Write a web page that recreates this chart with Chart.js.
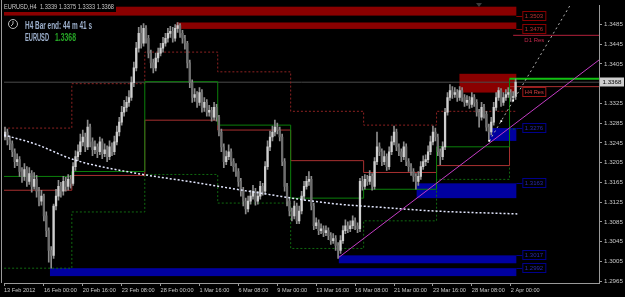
<!DOCTYPE html>
<html>
<head>
<meta charset="utf-8">
<script src="https://cdn.jsdelivr.net/npm/chart.js@4.4.1/dist/chart.umd.min.js"></script>
<style>
html, body { margin: 0; padding: 0; background: #000; }
</style>
</head>
<body>
<canvas id="myChart" width="625" height="297"></canvas>
<script>
// EURUSD H4 candles, bar 0 = 13 Feb 2012 00:00
var opens = [1.3255,1.3263,1.3257,1.3267,1.3251,1.3243,1.3227,1.3207,1.3211,1.3187,
  1.3177,1.3191,1.3167,1.3183,1.3157,1.3171,1.3147,1.3127,1.3137,1.3097,
  1.3067,1.3027,1.3017,1.3117,1.3137,1.3157,1.3147,1.3167,1.3157,1.3171,
  1.3163,1.3197,1.3217,1.3227,1.3247,1.3257,1.3237,1.3277,1.3247,1.3231,
  1.3237,1.3227,1.3247,1.3223,1.3231,1.3217,1.3237,1.3227,1.3247,1.3267,
  1.3287,1.3307,1.3317,1.3327,1.3337,1.3367,1.3397,1.3437,1.3467,1.3447,
  1.3477,1.3457,1.3427,1.3407,1.3397,1.3417,1.3427,1.3437,1.3447,1.3457,
  1.3467,1.3471,1.3457,1.3477,1.3483,1.3467,1.3457,1.3447,1.3407,1.3367,
  1.3337,1.3343,1.3327,1.3347,1.3317,1.3327,1.3307,1.3311,1.3297,1.3317,
  1.3297,1.3267,1.3237,1.3207,1.3217,1.3227,1.3207,1.3197,1.3187,1.3167,
  1.3147,1.3127,1.3111,1.3127,1.3137,1.3147,1.3127,1.3137,1.3157,1.3147,
  1.3197,1.3237,1.3257,1.3267,1.3277,1.3271,1.3257,1.3207,1.3157,1.3127,
  1.3107,1.3097,1.3117,1.3087,1.3107,1.3137,1.3157,1.3167,1.3171,1.3117,
  1.3077,1.3083,1.3067,1.3071,1.3063,1.3067,1.3057,1.3047,1.3051,1.3037,
  1.3027,1.3047,1.3067,1.3077,1.3071,1.3077,1.3087,1.3077,1.3071,1.3167,
  1.3157,1.3171,1.3167,1.3177,1.3157,1.3207,1.3237,1.3227,1.3207,1.3217,
  1.3197,1.3227,1.3247,1.3267,1.3237,1.3227,1.3217,1.3237,1.3207,1.3197,
  1.3187,1.3177,1.3167,1.3177,1.3197,1.3207,1.3211,1.3227,1.3247,1.3267,
  1.3257,1.3227,1.3217,1.3237,1.3307,1.3337,1.3351,1.3343,1.3347,1.3337,
  1.3351,1.3337,1.3327,1.3331,1.3323,1.3337,1.3327,1.3307,1.3297,1.3317,
  1.3303,1.3277,1.3267,1.3287,1.3317,1.3337,1.3351,1.3327,1.3337,1.3343,
  1.3347,1.3337,1.3339];
var highs = [1.3275,1.3271,1.3277,1.3273,1.3259,1.3249,1.3233,1.3223,1.3217,1.3195,
  1.3203,1.3197,1.3195,1.3189,1.3185,1.3179,1.3155,1.3149,1.3141,1.3105,
  1.3073,1.3035,1.3121,1.3151,1.3169,1.3165,1.3177,1.3175,1.3181,1.3179,
  1.3205,1.3229,1.3241,1.3263,1.3271,1.3265,1.3291,1.3283,1.3255,1.3249,
  1.3243,1.3257,1.3253,1.3243,1.3239,1.3249,1.3245,1.3259,1.3279,1.3297,
  1.3319,1.3331,1.3339,1.3351,1.3379,1.3409,1.3449,1.3479,1.3483,1.3487,
  1.3483,1.3463,1.3433,1.3415,1.3427,1.3437,1.3447,1.3459,1.3467,1.3477,
  1.3481,1.3479,1.3485,1.3489,1.3487,1.3473,1.3463,1.3451,1.3413,1.3373,
  1.3355,1.3349,1.3357,1.3353,1.3337,1.3333,1.3321,1.3317,1.3327,1.3323,
  1.3301,1.3273,1.3243,1.3229,1.3241,1.3233,1.3213,1.3203,1.3193,1.3173,
  1.3155,1.3133,1.3137,1.3149,1.3159,1.3153,1.3147,1.3167,1.3163,1.3207,
  1.3249,1.3269,1.3279,1.3291,1.3285,1.3277,1.3263,1.3213,1.3163,1.3133,
  1.3113,1.3127,1.3123,1.3117,1.3147,1.3167,1.3177,1.3187,1.3177,1.3123,
  1.3093,1.3089,1.3081,1.3077,1.3077,1.3073,1.3063,1.3061,1.3057,1.3043,
  1.3057,1.3077,1.3089,1.3085,1.3087,1.3097,1.3093,1.3083,1.3173,1.3177,
  1.3181,1.3179,1.3189,1.3183,1.3215,1.3267,1.3245,1.3233,1.3229,1.3223,
  1.3237,1.3259,1.3279,1.3273,1.3243,1.3233,1.3247,1.3243,1.3213,1.3203,
  1.3193,1.3183,1.3187,1.3207,1.3219,1.3221,1.3239,1.3259,1.3279,1.3275,
  1.3263,1.3233,1.3247,1.3315,1.3347,1.3363,1.3359,1.3357,1.3353,1.3359,
  1.3357,1.3343,1.3341,1.3339,1.3347,1.3343,1.3333,1.3313,1.3327,1.3323,
  1.3309,1.3283,1.3297,1.3327,1.3347,1.3357,1.3355,1.3347,1.3353,1.3357,
  1.3353,1.3349,1.3375];
var lows = [1.3245,1.3249,1.3251,1.3241,1.3231,1.3217,1.3195,1.3199,1.3177,1.3165,
  1.3169,1.3157,1.3161,1.3145,1.3151,1.3135,1.3117,1.3119,1.3087,1.3055,
  1.3003,1.2991,1.3011,1.3109,1.3129,1.3135,1.3139,1.3147,1.3149,1.3153,
  1.3159,1.3189,1.3209,1.3221,1.3239,1.3227,1.3231,1.3237,1.3219,1.3223,
  1.3215,1.3221,1.3213,1.3217,1.3207,1.3211,1.3219,1.3221,1.3241,1.3259,
  1.3281,1.3299,1.3309,1.3319,1.3331,1.3359,1.3391,1.3429,1.3437,1.3441,
  1.3447,1.3417,1.3397,1.3387,1.3391,1.3409,1.3421,1.3429,1.3441,1.3449,
  1.3459,1.3449,1.3451,1.3469,1.3459,1.3447,1.3435,1.3397,1.3357,1.3327,
  1.3329,1.3317,1.3321,1.3307,1.3309,1.3299,1.3299,1.3289,1.3291,1.3289,
  1.3259,1.3227,1.3195,1.3201,1.3211,1.3199,1.3187,1.3177,1.3157,1.3137,
  1.3117,1.3101,1.3105,1.3121,1.3131,1.3119,1.3121,1.3131,1.3139,1.3141,
  1.3191,1.3229,1.3249,1.3259,1.3263,1.3249,1.3199,1.3147,1.3117,1.3097,
  1.3087,1.3091,1.3081,1.3081,1.3101,1.3129,1.3151,1.3159,1.3109,1.3069,
  1.3071,1.3059,1.3061,1.3055,1.3057,1.3049,1.3039,1.3041,1.3027,1.3011,
  1.3021,1.3041,1.3061,1.3063,1.3065,1.3071,1.3069,1.3063,1.3065,1.3149,
  1.3151,1.3159,1.3161,1.3149,1.3151,1.3201,1.3219,1.3199,1.3201,1.3189,
  1.3191,1.3221,1.3241,1.3229,1.3219,1.3207,1.3211,1.3199,1.3187,1.3179,
  1.3167,1.3151,1.3159,1.3171,1.3191,1.3199,1.3205,1.3221,1.3241,1.3249,
  1.3219,1.3201,1.3211,1.3231,1.3301,1.3331,1.3335,1.3337,1.3329,1.3331,
  1.3329,1.3319,1.3321,1.3315,1.3317,1.3319,1.3299,1.3277,1.3291,1.3295,
  1.3269,1.3249,1.3261,1.3281,1.3311,1.3331,1.3319,1.3321,1.3331,1.3337,
  1.3329,1.3329,1.3333];
var closes = [1.3263,1.3257,1.3267,1.3251,1.3243,1.3227,1.3207,1.3211,1.3187,1.3177,
  1.3191,1.3167,1.3183,1.3157,1.3171,1.3147,1.3127,1.3137,1.3097,1.3067,
  1.3027,1.3017,1.3117,1.3137,1.3157,1.3147,1.3167,1.3157,1.3171,1.3163,
  1.3197,1.3217,1.3227,1.3247,1.3257,1.3237,1.3277,1.3247,1.3231,1.3237,
  1.3227,1.3247,1.3223,1.3231,1.3217,1.3237,1.3227,1.3247,1.3267,1.3287,
  1.3307,1.3317,1.3327,1.3337,1.3367,1.3397,1.3437,1.3467,1.3447,1.3477,
  1.3457,1.3427,1.3407,1.3397,1.3417,1.3427,1.3437,1.3447,1.3457,1.3467,
  1.3471,1.3457,1.3477,1.3483,1.3467,1.3457,1.3447,1.3407,1.3367,1.3337,
  1.3343,1.3327,1.3347,1.3317,1.3327,1.3307,1.3311,1.3297,1.3317,1.3297,
  1.3267,1.3237,1.3207,1.3217,1.3227,1.3207,1.3197,1.3187,1.3167,1.3147,
  1.3127,1.3111,1.3127,1.3137,1.3147,1.3127,1.3137,1.3157,1.3147,1.3197,
  1.3237,1.3257,1.3267,1.3277,1.3271,1.3257,1.3207,1.3157,1.3127,1.3107,
  1.3097,1.3117,1.3087,1.3107,1.3137,1.3157,1.3167,1.3171,1.3117,1.3077,
  1.3083,1.3067,1.3071,1.3063,1.3067,1.3057,1.3047,1.3051,1.3037,1.3027,
  1.3047,1.3067,1.3077,1.3071,1.3077,1.3087,1.3077,1.3071,1.3167,1.3157,
  1.3171,1.3167,1.3177,1.3157,1.3207,1.3237,1.3227,1.3207,1.3217,1.3197,
  1.3227,1.3247,1.3267,1.3237,1.3227,1.3217,1.3237,1.3207,1.3197,1.3187,
  1.3177,1.3167,1.3177,1.3197,1.3207,1.3211,1.3227,1.3247,1.3267,1.3257,
  1.3227,1.3217,1.3237,1.3307,1.3337,1.3351,1.3343,1.3347,1.3337,1.3351,
  1.3337,1.3327,1.3331,1.3323,1.3337,1.3327,1.3307,1.3297,1.3317,1.3303,
  1.3277,1.3267,1.3287,1.3317,1.3337,1.3351,1.3327,1.3337,1.3343,1.3347,
  1.3337,1.3339,1.3368];

// time axis: one label every 16 bars
var timeTickBars = [1.6, 18, 34, 50, 66, 82, 98, 114, 130, 146, 162, 178, 194, 210];
var timeTickLabels = ['13 Feb 2012', '16 Feb 00:00', '20 Feb 16:00', '23 Feb 08:00', '28 Feb 00:00',
  '1 Mar 16:00', '6 Mar 08:00', '9 Mar 00:00', '13 Mar 16:00', '16 Mar 08:00',
  '21 Mar 00:00', '23 Mar 16:00', '28 Mar 08:00', '2 Apr 00:00'];
var priceTicks = [1.2965, 1.3005, 1.3045, 1.3085, 1.3125, 1.3165, 1.3205, 1.3245,
  1.3285, 1.3325, 1.3365, 1.3405, 1.3445, 1.3485];

// weekly levels (week starts in bars)
var weekStarts = [0, 29.5, 59.5, 89.5, 119.5, 149.5, 179.5, 209.5];
var weekHighDotted = [1.3275, 1.3365, 1.3429, 1.3389, 1.3309, 1.3281, 1.3309, 1.3309];
var weekLowDotted = [1.2991, 1.3105, 1.3181, 1.3123, 1.3031, 1.3087, 1.3171, 1.3273];
var weekHighSolid = [1.3177, 1.3187, 1.3369, 1.3281, 1.3133, 1.3151, 1.3237, 1.3375];
var weekLowSolid = [1.3149, 1.3179, 1.3291, 1.3271, 1.3209, 1.3185, 1.3199, 1.3359];

// slow moving average (read at a few bars)
var maBars = [1.6, 14.3, 30.3, 54.1, 79.9, 107.3, 134.8, 160.6, 178.2, 212.7];
var maValues = [1.3261, 1.3243, 1.3211, 1.3185, 1.3165, 1.3143, 1.3123, 1.3113, 1.3107, 1.3101];

// drawn objects
var trendBars = [139.3, 246.3];
var trendValues = [1.3013, 1.3413];
var channelBars = [201.2, 236];
var channelValues = [1.3249, 1.3537];
var markerBars = [201.2, 206.1, 211.0];
var markerValues = [1.3249, 1.3289, 1.3331];
var d1ResBars = [211, 246.3];
var d1Res = 1.3463;
var bidPrice = 1.3368;

// supply / demand zones
var zoneStart = [1.6, 72.5, 188.9, 201.2, 171.3, 139.3, 20.5];
var zoneEnd = 212.3;
var zoneTop = [1.3521, 1.3489, 1.3385, 1.3275, 1.3163, 1.3017, 1.2991];
var zoneBottom = [1.3503, 1.3476, 1.3347, 1.3249, 1.3133, 1.3001, 1.2975];
var zoneKind = ['sup', 'sup', 'sup', 'dem', 'dem', 'dem', 'dem'];
var zoneLabels = ['1.3503', '1.3476', '', '1.3276', '1.3163', '1.3017', '1.2992'];

var FONT = '"Liberation Sans", Arial, sans-serif';
var AXIS = '#9a9a9a';

function pts(xs, ys) {
    return xs.map(function (x, k) { return {x: x, y: ys[k]}; });
}
function weekly(values, endBar) {
    var p = pts(weekStarts, values);
    p.push({x: endBar, y: values[values.length - 1]});
    return p;
}
var wickData = closes.map(function (c, i) { return {x: i, y: [lows[i], highs[i]]}; });
var bodyData = closes.map(function (c, i) { return {x: i, y: [opens[i], closes[i]]}; });

// zones behind, labels and text on top
const overlay = {
    id: 'overlay',
    beforeDatasetsDraw: function (chart) {
        var ctx = chart.ctx, a = chart.chartArea, x = chart.scales.x, y = chart.scales.y;
        ctx.save();
        ctx.beginPath();
        ctx.rect(a.left, a.top, a.right - a.left, a.bottom - a.top);
        ctx.clip();
        zoneStart.forEach(function (s, k) {
            var x0 = Math.max(x.getPixelForValue(s), a.left);
            var x1 = x.getPixelForValue(zoneEnd);
            var y0 = y.getPixelForValue(zoneTop[k]);
            var y1 = y.getPixelForValue(zoneBottom[k]);
            ctx.fillStyle = zoneKind[k] === 'sup' ? '#8a0000' : '#0000a0';
            ctx.fillRect(x0, y0, x1 - x0, y1 - y0);
        });
        ctx.restore();
    },
    afterDatasetsDraw: function (chart) {
        var ctx = chart.ctx, x = chart.scales.x, y = chart.scales.y;
        var xe = x.getPixelForValue(zoneEnd);
        ctx.save();
        ctx.font = '6px ' + FONT;
        ctx.textBaseline = 'middle';
        zoneLabels.forEach(function (t, k) {
            if (!t) return;
            var sup = zoneKind[k] === 'sup';
            var ly = Math.round(y.getPixelForValue(sup ? zoneBottom[k] : zoneTop[k]));
            ctx.strokeStyle = sup ? '#8a0000' : '#00008c';
            ctx.lineWidth = 1;
            ctx.beginPath();
            ctx.moveTo(xe, ly + 0.5);
            ctx.lineTo(xe + 6, ly + 0.5);
            ctx.stroke();
            ctx.strokeRect(xe + 6.5, ly - 4.5, 23, 9);
            ctx.fillStyle = sup ? '#b83030' : '#2a2ab0';
            ctx.fillText(t, xe + 8.5, ly + 0.5, 19);
        });
        // H4 Res label under its line
        var hy = Math.round(y.getPixelForValue(weekLowSolid[7]));
        ctx.strokeStyle = '#a01818';
        ctx.strokeRect(xe + 6.5, hy + 0.5, 23, 9);
        ctx.fillStyle = '#d04040';
        ctx.fillText('H4 Res', xe + 8.5, hy + 5, 19);
        // D1 Res text
        var dy = y.getPixelForValue(d1Res);
        ctx.fillStyle = '#c0284a';
        ctx.fillText('D1 Res', xe + 8, dy + 5, 21);
        ctx.restore();
    },
    afterDraw: function (chart) {
        var ctx = chart.ctx, a = chart.chartArea, y = chart.scales.y;
        ctx.save();
        // left border
        ctx.strokeStyle = AXIS;
        ctx.beginPath();
        ctx.moveTo(1.5, 0);
        ctx.lineTo(1.5, a.bottom);
        ctx.stroke();
        // header box
        ctx.fillStyle = '#000';
        ctx.fillRect(2, 2, 114, 10);
        ctx.fillStyle = '#c8c8c8';
        ctx.font = '6.5px ' + FONT;
        ctx.textBaseline = 'middle';
        var last = closes.length - 1;
        ctx.fillText('EURUSD,H4  ' + opens[last].toFixed(4) + ' ' + highs[last].toFixed(4) + ' ' +
            lows[last].toFixed(4) + ' ' + closes[last].toFixed(4), 4, 7.5, 110);
        // clock icon
        ctx.strokeStyle = '#b8b8b8';
        ctx.lineWidth = 1;
        ctx.beginPath();
        ctx.arc(13, 24, 4.5, 0, Math.PI * 2);
        ctx.moveTo(13, 24); ctx.lineTo(13, 21);
        ctx.moveTo(13, 24); ctx.lineTo(11, 26);
        ctx.stroke();
        ctx.font = 'bold 10px ' + FONT;
        ctx.fillStyle = '#9db0cc';
        ctx.fillText('H4 Bar end: 44 m 41 s', 25, 26, 67);
        ctx.fillText('EURUSD', 25, 38.5, 24);
        ctx.fillStyle = '#26a626';
        ctx.fillText(closes[last].toFixed(4), 55, 38.5, 21);
        // shift marker
        ctx.fillStyle = '#3a3a3a';
        ctx.beginPath();
        ctx.moveTo(476, 3); ctx.lineTo(482, 3); ctx.lineTo(479, 7);
        ctx.fill();
        // current price tag on the axis
        var py = Math.round(y.getPixelForValue(bidPrice));
        ctx.fillStyle = '#cfcfcf';
        ctx.fillRect(a.right + 1, py - 4.5, 24, 9);
        ctx.fillStyle = '#000';
        ctx.font = '6.2px ' + FONT;
        ctx.fillText(bidPrice.toFixed(4), a.right + 3.5, py, 20);
        ctx.restore();
    }
};

const data = {
    datasets: [
        {   // small swing markers
            type: 'line', data: pts(markerBars, markerValues), showLine: false,
            pointStyle: 'rect', pointRadius: 1.3, pointBackgroundColor: '#ffffff', pointBorderWidth: 0
        },
        {   // rising trend line
            type: 'line', data: pts(trendBars, trendValues),
            borderColor: '#c43cc4', borderWidth: 1, pointRadius: 0
        },
        {   // dotted projection
            type: 'line', data: pts(channelBars, channelValues),
            borderColor: '#b0b0b0', borderWidth: 1, borderDash: [2, 3], pointRadius: 0
        },
        {   // D1 resistance
            type: 'line', data: [{x: d1ResBars[0], y: d1Res}, {x: d1ResBars[1], y: d1Res}],
            borderColor: '#b4203c', borderWidth: 1, pointRadius: 0
        },
        {   // moving average
            type: 'line', data: pts(maBars, maValues), cubicInterpolationMode: 'monotone',
            borderColor: '#e4e8ff', borderWidth: 1.5, borderDash: [2, 2], pointRadius: 0
        },
        {   // candle bodies
            type: 'bar', data: bodyData, barThickness: 1.6, grouped: false, minBarLength: 1,
            backgroundColor: function (c) {
                var i = c.dataIndex;
                return closes[i] >= opens[i] ? '#cfcfcf' : '#6e6e6e';
            }
        },
        {   // candle wicks
            type: 'bar', data: wickData, barThickness: 1, grouped: false,
            backgroundColor: '#8c8c8c'
        },
        {
            type: 'line', data: weekly(weekHighSolid, 246.3), stepped: true, pointRadius: 0,
            borderWidth: 1, borderColor: '#0b800b',
            segment: {
                borderColor: function (s) { return s.p0.parsed.x >= 209 ? '#12c012' : undefined; },
                borderWidth: function (s) { return s.p0.parsed.x >= 209 ? 2 : undefined; }
            }
        },
        {
            type: 'line', data: weekly(weekLowSolid, 246.3), stepped: true, pointRadius: 0,
            borderWidth: 1, borderColor: '#a83030'
        },
        {
            type: 'line', data: weekly(weekHighDotted, 212.7), stepped: true, pointRadius: 0,
            borderWidth: 1, borderColor: '#8e2222', borderDash: [2, 2]
        },
        {
            type: 'line', data: weekly(weekLowDotted, 212.7), stepped: true, pointRadius: 0,
            borderWidth: 1, borderColor: '#106a10', borderDash: [2, 2]
        },
        {   // bid line
            type: 'line', data: [{x: 1.6, y: bidPrice}, {x: 246.3, y: bidPrice}],
            borderColor: '#4a4a4a', borderWidth: 1, pointRadius: 0
        }
    ]
};

const config = {
    type: 'bar',
    data: data,
    options: {
        responsive: false,
        animation: false,
        events: [],
        layout: { padding: { left: 2, top: 2, right: 0, bottom: 0 } },
        plugins: { legend: { display: false }, tooltip: { enabled: false } },
        scales: {
            x: {
                type: 'linear', min: 1.6, max: 246.3, offset: false,
                afterBuildTicks: function (s) { s.ticks = timeTickBars.map(function (v) { return {value: v}; }); },
                afterFit: function (s) { s.height = 14; },
                ticks: {
                    align: 'start', autoSkip: false, maxRotation: 0, padding: 1, color: '#c8c8c8',
                    font: { size: 5.6, family: FONT },
                    callback: function (v, i) { return timeTickLabels[i]; }
                },
                grid: { offset: false, drawOnChartArea: false, tickLength: 3, color: AXIS },
                border: { color: AXIS }
            },
            y: {
                position: 'right', min: 1.2961, max: 1.3523,
                afterBuildTicks: function (s) { s.ticks = priceTicks.map(function (v) { return {value: v}; }); },
                afterFit: function (s) { s.width = 26; },
                ticks: {
                    padding: 2, color: '#c8c8c8', font: { size: 6.2, family: FONT },
                    callback: function (v) { return v.toFixed(4); }
                },
                grid: { drawOnChartArea: false, tickLength: 3, color: AXIS },
                border: { color: AXIS }
            }
        }
    },
    plugins: [overlay]
};

const myChart = new Chart(document.getElementById('myChart'), config);
</script>
</body>
</html>
